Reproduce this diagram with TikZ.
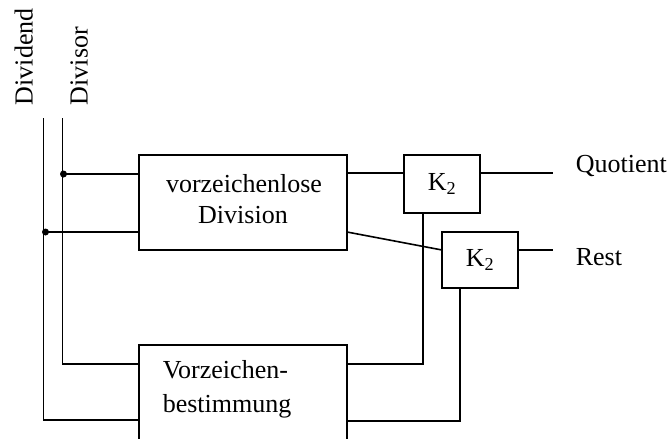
\documentclass[tikz,border=0pt]{standalone}
\usepackage{fontspec}
\setmainfont{Liberation Serif}
\begin{document}
\begin{tikzpicture}[x=1pt,y=-1pt,line width=1.6pt,
  every node/.style={font=\fontsize{26}{31}\selectfont, inner sep=0pt},
  blk/.style={draw, line width=1.6pt, minimum width=#1},
  txt/.style={anchor=base west},
  dot/.style={circle, fill, minimum size=7pt, inner sep=0pt}]
\useasboundingbox (0,0) rectangle (670,439);
% input labels
\node[rotate=90, txt] (ldvd) at (32.5,106) {Dividend};
\node[rotate=90, txt] (ldvs) at (87.5,106) {Divisor};
% blocks
\node[blk=208pt, minimum height=95pt] (div) at (243,202.5) {};
\node[anchor=base] (divA) at (244,192) {vorzeichenlose};
\node[anchor=base] (divB) at (243,223) {Division};
\node[blk=76pt, minimum height=58pt] (k1) at (442,184) {K\textsubscript{2}};
\node[blk=76pt, minimum height=56pt] (k2) at (480,260) {K\textsubscript{2}};
% sign block (open at bottom, cut by the picture edge)
\coordinate (sgnBL) at (139,439);
\coordinate (sgnTL) at (139,345);
\coordinate (sgnTR) at (347,345);
\coordinate (sgnBR) at (347,439);
\draw (sgnBL) -- (sgnTL) -- (sgnTR) -- (sgnBR);
\node[txt] (sgnA) at (162,378) {Vorzeichen-};
\node[txt] (sgnB) at (162,412) {bestimmung};
% outputs
\node[txt] (quo) at (575,172) {Quotient};
\node[txt] (rest) at (575,265) {Rest};
\coordinate (quoEnd) at (553,173);
\coordinate (restEnd) at (553,250);
% input lines
\coordinate (dvdTop) at (43.5,118);
\coordinate (dvdBot) at (43.5,420);
\coordinate (dvsTop) at (62.5,118);
\coordinate (dvsBot) at (62.5,364);
\node[dot] (dvsDot) at (63.5,174) {};
\node[dot] (dvdDot) at (45.5,232) {};
\draw (dvdTop) -- (dvdBot) -- (dvdBot -| sgnTL);
\draw (dvsTop) -- (dvsBot) -- (dvsBot -| sgnTL);
\draw (dvsDot.center) -- (dvsDot.center -| div.west);
\draw (dvdDot.center) -- (dvdDot.center -| div.west);
% division to correction blocks
\coordinate (divQ) at (347,173);
\coordinate (divR) at (347,232);
\coordinate (k2in) at (442,250);
\draw (divQ) -- (divQ -| k1.west);
\draw (divR) -- (k2in);
% outputs
\draw (quoEnd -| k1.east) -- (quoEnd);
\draw (restEnd -| k2.east) -- (restEnd);
% sign to correction blocks
\coordinate (s1) at (423,364);
\coordinate (s2) at (460,421);
\draw (s1 |- k1.south) -- (s1) -- (s1 -| sgnTR);
\draw (s2 |- k2.south) -- (s2) -- (s2 -| sgnTR);
\end{tikzpicture}
\end{document}
